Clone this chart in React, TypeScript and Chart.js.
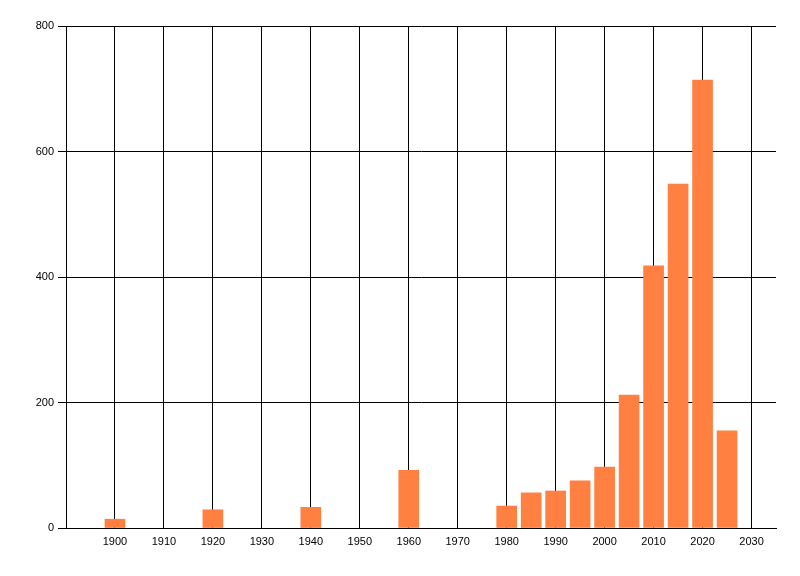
import React, { useEffect, useRef } from "react";
import { Chart, registerables } from "chart.js";

Chart.register(...registerables);

const years = [1900, 1920, 1940, 1960, 1980, 1985, 1990, 1995, 2000, 2005, 2010, 2015, 2020, 2025];
const counts = [14, 29, 33, 92, 35, 56, 59, 75, 97, 212, 418, 548, 714, 155];
const xTickValues = [1900, 1910, 1920, 1930, 1940, 1950, 1960, 1970, 1980, 1990, 2000, 2010, 2020, 2030];
const yTickValues = [0, 200, 400, 600, 800];

export default function App() {
  const ref = useRef<HTMLCanvasElement | null>(null);

  useEffect(() => {
    document.body.style.margin = "0";
    const canvas = ref.current;
    if (!canvas) return;
    const font = { family: "'Liberation Sans', Arial, sans-serif", size: 11 };
    const chart = new Chart(canvas, {
      type: "bar",
      data: {
        datasets: [
          {
            data: years.map((y, i) => ({ x: y, y: counts[i] })),
            backgroundColor: "#FF8040",
            borderWidth: 0,
            barThickness: 20,
          },
        ],
      },
      options: {
        responsive: false,
        animation: false,
        layout: { padding: { left: 0, top: 26, right: 24, bottom: 0 } },
        plugins: { legend: { display: false }, tooltip: { enabled: false } },
        scales: {
          x: {
            type: "linear",
            min: 1890,
            max: 2035,
            offset: false,
            afterBuildTicks: (scale: any) => {
              scale.ticks = xTickValues.map((v) => ({ value: v }));
            },
            afterFit: (scale: any) => {
              scale.height = 48;
            },
            ticks: {
              color: "#000",
              font,
              padding: 7,
              maxRotation: 0,
              autoSkip: false,
              callback: (v: any) => String(v),
            },
            grid: { color: "#000", lineWidth: 1, drawTicks: false, offset: false },
            border: { color: "#000", width: 1 },
          },
          y: {
            min: 0,
            max: 800,
            afterBuildTicks: (scale: any) => {
              scale.ticks = yTickValues.map((v) => ({ value: v }));
            },
            afterFit: (scale: any) => {
              scale.width = 66;
            },
            ticks: { color: "#000", font, padding: 4 },
            grid: { color: "#000", lineWidth: 1, drawTicks: true, tickLength: 8 },
            border: { color: "#000", width: 1 },
          },
        },
      },
    } as any);
    return () => chart.destroy();
  }, []);

  return (
    <div style={{ width: 800, height: 576, background: "#fff" }}>
      <canvas ref={ref} width={800} height={576} style={{ display: "block" }} />
    </div>
  );
}
